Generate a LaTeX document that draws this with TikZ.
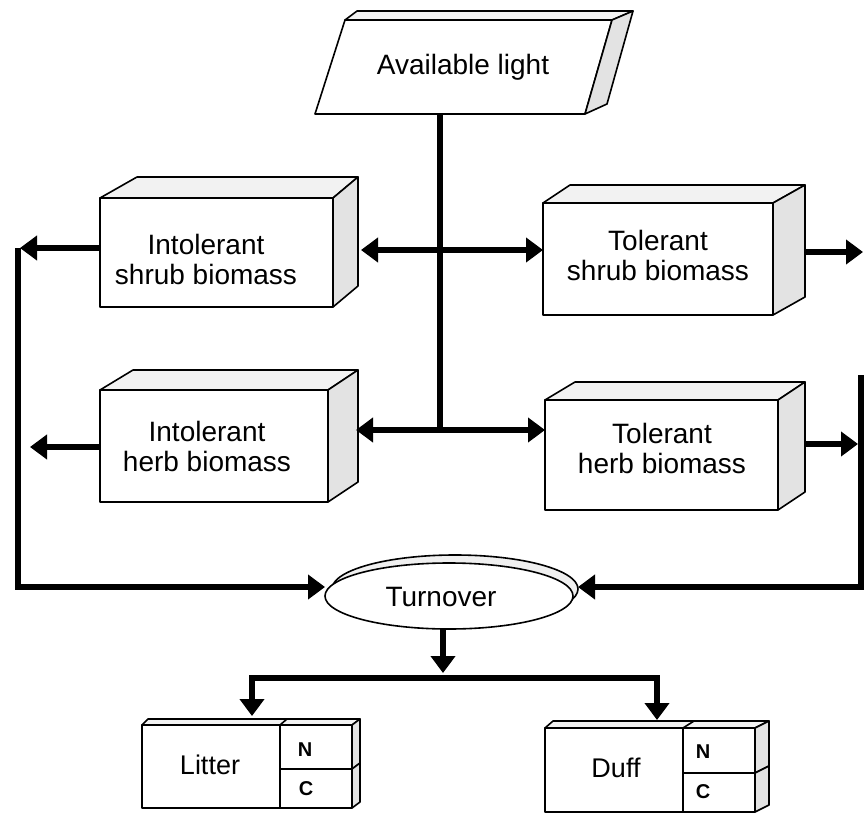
\documentclass[tikz,border=0pt]{standalone}
\usepackage{fontspec}
\setmainfont{Liberation Sans}
\usetikzlibrary{arrows.meta,calc,shapes.geometric}
\tikzset{
 face/.style={draw=black, line width=1.6pt, fill=white, line join=round, inner sep=0pt, outer sep=0pt},
 topface/.style={draw=black, line width=1.6pt, fill=black!5, line join=round},
 sideface/.style={draw=black, line width=1.6pt, fill=black!11, line join=round},
 txt/.style={font=\fontsize{28}{30}\selectfont, align=center, inner sep=0pt},
 smalltxt/.style={font=\fontsize{27}{30}\selectfont, inner sep=0pt},
 nctxt/.style={font=\fontsize{20}{22}\selectfont\bfseries, inner sep=0pt},
 flow/.style={line width=6.5pt, -{Triangle[length=17pt,width=24pt]}},
 biflow/.style={line width=6.5pt, {Triangle[length=17pt,width=24pt]}-{Triangle[length=17pt,width=24pt]}},
 trunk/.style={line width=6.5pt},
 ell/.style={ellipse, draw=black, line width=1.6pt, inner sep=0pt, outer sep=0pt},
}
\newcommand\mkdepth[4]{%
 \filldraw[topface] (#1.north west) -- ++(#2,#4) -- ($(#1.north east)+(#3,#4)$) -- (#1.north east) -- cycle;
 \filldraw[sideface] (#1.north east) -- ++(#3,#4) -- ($(#1.south east)+(#3,#4)$) -- (#1.south east) -- cycle;
}
\newcommand\mkside[3]{%
 \filldraw[sideface] (#1.north east) -- ++(#2,#3) -- ($(#1.south east)+(#2,#3)$) -- (#1.south east) -- cycle;
}
\begin{document}
\begin{tikzpicture}[x=1pt,y=-1pt]
\useasboundingbox (0,0) rectangle (864,821);

% Available light (parallelogram)
\filldraw[face] (345,20) -- (612,20) -- (585,114) -- (315,114) -- cycle;
\filldraw[topface] (345,20) -- (357,11) -- (633,11) -- (612,20) -- cycle;
\filldraw[sideface] (612,20) -- (633,11) -- (607,104) -- (585,114) -- cycle;
\node[txt, minimum width=240, minimum height=94] (light) at (463,67) {Available light};

% biomass boxes
\node[face, minimum width=233, minimum height=109] (is) at (216.5,252.5) {};
\mkdepth{is}{37}{25}{-21}
\node[face, minimum width=230, minimum height=112] (ts) at (658,259) {};
\mkdepth{ts}{27}{32}{-18}
\node[face, minimum width=228, minimum height=112] (ih) at (214,446) {};
\mkdepth{ih}{33}{30}{-20}
\node[face, minimum width=233, minimum height=110] (th) at (661.5,455) {};
\mkdepth{th}{30}{27}{-18}

\node[txt] (isT) at (206,259) {Intolerant\\shrub biomass};
\node[txt] (tsT) at (658,255) {Tolerant\\shrub biomass};
\node[txt] (ihT) at (207,446) {Intolerant\\herb biomass};
\node[txt] (thT) at (662,448) {Tolerant\\herb biomass};

% Turnover
\node[ell, fill=black!6, minimum width=246, minimum height=68] (turnb) at (455,589) {};
\node[ell, fill=white, minimum width=248, minimum height=66] (turn) at (449,596) {};
\node[txt] (turnT) at (441,597) {Turnover};

% Litter
\node[face, minimum width=138, minimum height=83] (lit) at (211,766.5) {};
\node[face, minimum width=72, minimum height=44] (litN) at (316,747) {};
\node[face, minimum width=72, minimum height=39] (litC) at (316,788.5) {};
\filldraw[topface] (lit.north west) -- ++(6,-6) -- ($(litN.north east)+(8,-6)$) -- (litN.north east) -- cycle;
\draw[line width=1.6pt] (lit.north east) -- ++(7,-6);
\mkside{litN}{8}{-6}
\mkside{litC}{8}{-6}
\node[smalltxt] (litT) at (210,765) {Litter};
\node[nctxt] (litNT) at (305,750) {N};
\node[nctxt] (litCT) at (306,789) {C};

% Duff
\node[face, minimum width=138, minimum height=84] (duf) at (614,770) {};
\node[face, minimum width=72, minimum height=45] (dufN) at (719,750.5) {};
\node[face, minimum width=72, minimum height=39] (dufC) at (719,792.5) {};
\filldraw[topface] (duf.north west) -- ++(8,-7) -- ($(dufN.north east)+(14,-7)$) -- (dufN.north east) -- cycle;
\draw[line width=1.6pt] (duf.north east) -- ++(11,-7);
\mkside{dufN}{14}{-7}
\mkside{dufC}{14}{-7}
\node[smalltxt] (dufT) at (616,768) {Duff};
\node[nctxt] (dufNT) at (703,752) {N};
\node[nctxt] (dufCT) at (703,792) {C};

% connectors
\coordinate (j1) at (440,250);
\coordinate (j2) at (440,430);
\draw[trunk] (light.south -| j1) -- (j2);
\draw[biflow] ([xshift=28pt]is.east |- j1) -- (ts.west |- j1);
\draw[biflow] ([xshift=28pt]ih.east |- j2) -- (th.west |- j2);

\coordinate (lc1) at (18,248);
\coordinate (lc2) at (18,587);
\coordinate (lh) at (30,447);
\draw[flow] (is.west |- lc1) -- ([xshift=2pt]lc1);
\draw[flow] (lc1) -- (lc2) -- (turn.west |- lc2);
\draw[flow] (ih.west |- lh) -- (lh);

\coordinate (rs) at (863,252);
\coordinate (rh) at (858,444);
\coordinate (rc0) at (861,375);
\coordinate (rc1) at (861,587);
\draw[flow] ([xshift=32pt]ts.east |- rs) -- (rs);
\draw[flow] ([xshift=27pt]th.east |- rh) -- (rh);
\draw[flow] (rc0) -- (rc1) -- (turnb.east |- rc1);

\coordinate (t1) at (443,673);
\coordinate (d) at (443,678);
\coordinate (la) at (252,716);
\coordinate (da) at (657,720);
\draw[flow] (turn.south -| t1) -- (t1);
\draw[flow] (d) -| (la);
\draw[flow] (d) -| (da);
\end{tikzpicture}
\end{document}
